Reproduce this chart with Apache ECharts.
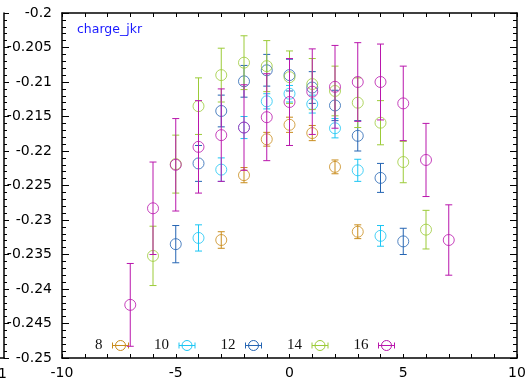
<!DOCTYPE html>
<html><head><meta charset="utf-8">
<script src="https://cdn.jsdelivr.net/npm/echarts@6/dist/echarts.min.js"></script>
<style>html,body{margin:0;padding:0;background:#fff}#c{width:525px;height:384px}</style>
</head><body><div id="c"></div>
<script>
// ---- data ----
const seriesNames = ['8', '10', '12', '14', '16'];
const x8  = [-3, -2, -1, 0, 1, 2, 3];
const y8  = [-0.2329, -0.2235, -0.2183, -0.2162, -0.2174, -0.2223, -0.2317];
const e8  = [0.0012, 0.0011, 0.0010, 0.0011, 0.0011, 0.0010, 0.0010];
const x10 = [-4, -3, -2, -1, 0, 1, 2, 3, 4];
const y10 = [-0.2326, -0.2227, -0.2166, -0.2128, -0.2117, -0.2132, -0.2167, -0.2228, -0.2323];
const e10 = [0.0019, 0.0017, 0.0016, 0.0011, 0.0012, 0.0013, 0.0014, 0.0016, 0.0015];
const x12 = [-5, -4, -3, -2, -1, 0, 1, 2, 3, 4, 5];
const y12 = [-0.2335, -0.2218, -0.2142, -0.2099, -0.2083, -0.2090, -0.2108, -0.2134, -0.2178, -0.2239, -0.2331];
const e12 = [0.0027, 0.0026, 0.0023, 0.0023, 0.0023, 0.0023, 0.0023, 0.0022, 0.0022, 0.0021, 0.0019];
const x14 = [-6, -5, -4, -3, -2, -1, 0, 1, 2, 3, 4, 5, 6];
const y14 = [-0.2352, -0.2219, -0.2135, -0.2090, -0.2072, -0.2077, -0.2093, -0.2103, -0.2113, -0.2130, -0.2159, -0.2216, -0.2314];
const e14 = [0.0043, 0.0042, 0.0041, 0.0039, 0.0039, 0.0037, 0.0038, 0.0037, 0.0036, 0.0036, 0.0032, 0.0030, 0.0028];
const x16 = [-7, -6, -5, -4, -3, -2, -1, 0, 1, 2, 3, 4, 5, 6, 7];
const y16 = [-0.2423, -0.2283, -0.2220, -0.2194, -0.2177, -0.2166, -0.2151, -0.2129, -0.2114, -0.2107, -0.2100, -0.2100, -0.2131, -0.2213, -0.2329];
const e16 = [0.0060, 0.0067, 0.0067, 0.0067, 0.0067, 0.0062, 0.0063, 0.0063, 0.0062, 0.0060, 0.0057, 0.0055, 0.0054, 0.0053, 0.0051];
const xMin = -10, xMax = 10, xInterval = 5;
const yMin = -0.25, yMax = -0.2, yInterval = 0.005;
const titleText = 'charge_jkr';

// ---- styling / assembly ----
const colors = ['#c98c1c', '#1cc6f4', '#2565b3', '#9ccb38', '#b916ac'];
const groups = [[x8, y8, e8], [x10, y10, e10], [x12, y12, e12], [x14, y14, e14], [x16, y16, e16]];

function errRender(params, api) {
  const x = api.value(0), lo = api.value(1), hi = api.value(2);
  const p1 = api.coord([x, hi]), p2 = api.coord([x, lo]);
  const hw = 3.5;
  const style = { stroke: api.visual('color'), lineWidth: 1, fill: null };
  return { type: 'group', children: [
    { type: 'line', shape: { x1: p1[0], y1: p1[1], x2: p2[0], y2: p2[1] }, style: style },
    { type: 'line', shape: { x1: p1[0] - hw, y1: p1[1], x2: p1[0] + hw, y2: p1[1] }, style: style },
    { type: 'line', shape: { x1: p2[0] - hw, y1: p2[1], x2: p2[0] + hw, y2: p2[1] }, style: style }
  ]};
}

const series = [];
groups.forEach(function (g, i) {
  const xs = g[0], ys = g[1], es = g[2];
  series.push({
    name: seriesNames[i], type: 'custom', xAxisIndex: 0, yAxisIndex: 0,
    renderItem: errRender, itemStyle: { color: colors[i] },
    data: xs.map(function (x, k) { return [x, ys[k] - es[k], ys[k] + es[k]]; }),
    encode: { x: 0, y: [1, 2] }, z: 2 + i * 2, silent: true
  });
  series.push({
    name: seriesNames[i], type: 'scatter', xAxisIndex: 0, yAxisIndex: 0,
    symbol: 'circle', symbolSize: 11,
    itemStyle: { color: 'rgba(0,0,0,0)', borderColor: colors[i], borderWidth: 1 },
    data: xs.map(function (x, k) { return [x, ys[k]]; }), z: 3 + i * 2, silent: true
  });
});

const legendIcon = 'path://M-3,5L13,5M-3,2L-3,8M13,2L13,8M0,5A5,5,0,1,0,10,5A5,5,0,1,0,0,5Z';

const axisFont = { fontFamily: 'DejaVu Sans', fontSize: 14, color: '#000' };
function mkAxis(extra) {
  return Object.assign({
    type: 'value',
    axisLine: { show: true, onZero: false, lineStyle: { color: '#000', width: 1.5 } },
    axisTick: { show: true, inside: true, length: 4, lineStyle: { color: '#000', width: 1 } },
    minorTick: { show: true, splitNumber: 5, length: 4, lineStyle: { color: '#000', width: 1 } },
    splitLine: { show: false }, minorSplitLine: { show: false },
    axisLabel: { show: false }
  }, extra);
}

const option = {
  animation: false,
  backgroundColor: '#fff',
  title: { text: titleText, left: 72, top: 18, textStyle: { fontFamily: 'DejaVu Sans', fontSize: 12.5, fontWeight: 'normal', color: '#1a1aff' } },
  legend: {
    left: 90, top: 333, orient: 'horizontal', align: 'right', itemGap: 25,
    itemWidth: 16, itemHeight: 10,
    textStyle: { fontFamily: 'Liberation Serif', fontSize: 15, color: '#111', padding: [0, 5, 0, 0] },
    data: seriesNames.map(function (n, i) {
      return { name: n, icon: legendIcon, itemStyle: { color: 'rgba(0,0,0,0)', borderColor: colors[i], borderWidth: 1 } };
    })
  },
  grid: [
    { left: 62, top: 13, width: 455, height: 345, show: false, outerBoundsMode: 'none', containLabel: false },
    { left: 0, top: 13, width: 4, height: 345, show: false, outerBoundsMode: 'none', containLabel: false }
  ],
  xAxis: [
    mkAxis({ gridIndex: 0, position: 'bottom', min: xMin, max: xMax, interval: xInterval,
      axisLabel: Object.assign({ show: true, margin: 8 }, axisFont) }),
    mkAxis({ gridIndex: 0, position: 'top', min: xMin, max: xMax, interval: xInterval }),
    mkAxis({ gridIndex: 1, position: 'bottom', min: 0, max: 1, axisTick: { show: false }, minorTick: { show: false } })
  ],
  yAxis: [
    mkAxis({ gridIndex: 0, position: 'left', min: yMin, max: yMax, interval: yInterval,
      axisTick: { show: true, inside: true, length: 7, lineStyle: { color: '#000', width: 1 } },
      axisLabel: Object.assign({ show: true, margin: 10 }, axisFont) }),
    mkAxis({ gridIndex: 0, position: 'right', min: yMin, max: yMax, interval: yInterval,
      axisTick: { show: true, inside: true, length: 7, lineStyle: { color: '#000', width: 1 } } }),
    mkAxis({ gridIndex: 1, position: 'right', min: yMin, max: yMax, interval: yInterval,
      axisTick: { show: true, inside: false, length: 5, lineStyle: { color: '#000', width: 1 } },
      minorTick: { show: true, splitNumber: 5, length: 3, lineStyle: { color: '#000', width: 1 } } })
  ],
  graphic: [
    { type: 'text', left: -2, top: 367, style: { text: '1', font: '14px "DejaVu Sans"', fill: '#000' } }
  ],
  series: series
};

const chart = echarts.init(document.getElementById('c'), null, { renderer: 'canvas' });
chart.setOption(option);
</script>
</body></html>
